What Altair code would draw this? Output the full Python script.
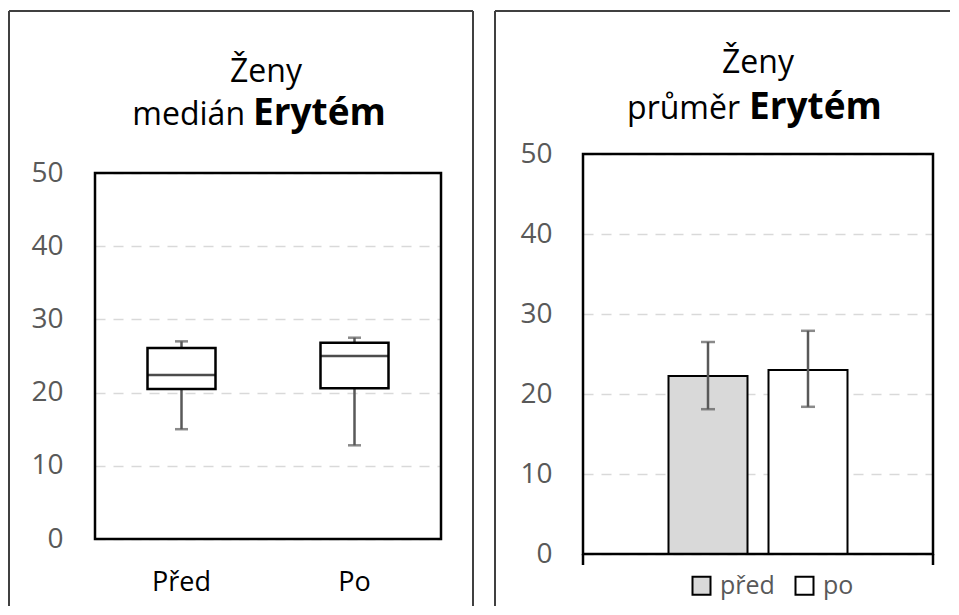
import altair as alt
import pandas as pd

FONT = "Open Sans"

# ---- data: left panel (median box plot) ----
box_groups = ["Před", "Po"]
box_min = [15.0, 12.8]
box_q1 = [20.5, 20.6]
box_median = [22.4, 25.0]
box_q3 = [26.1, 26.8]
box_max = [27.0, 27.5]

# ---- data: right panel (mean bars with error bars) ----
bar_groups = ["před", "po"]
bar_mean = [22.25, 23.0]
bar_err_low = [18.1, 18.4]
bar_err_high = [26.5, 27.9]

y_ticks = [0, 10, 20, 30, 40, 50]

box_df = pd.DataFrame({"grp": box_groups, "lo": box_min, "q1": box_q1,
                       "med": box_median, "q3": box_q3, "hi": box_max})
bar_df = pd.DataFrame({"grp": bar_groups, "mean": bar_mean,
                       "lo": bar_err_low, "hi": bar_err_high})
one = pd.DataFrame({"a": [0]})

W1, W2, H = 346, 350, 400
GRID = dict(grid=True, gridColor="#d9d9d9", gridDash=[10, 8], gridWidth=1.5)
T_REG, T_BOLD = 32, 37

# ---------------- left panel ----------------
ly_scale = alt.Scale(domain=[-2.049, 52.596], nice=False, zero=False)
ly_axis = alt.Axis(values=y_ticks, title=None, labelFont=FONT, labelFontSize=28,
                   labelColor="#595959", labelPadding=32, ticks=False, tickSize=0,
                   domain=False, labelOverlap=False, **GRID)
lx = alt.X("grp:N", sort=box_groups,
           scale=alt.Scale(domain=box_groups, paddingInner=0, paddingOuter=0),
           axis=alt.Axis(title=None, labelFont=FONT, labelFontSize=27, labelColor="#000000",
                         labelAngle=0, labelBaseline="alphabetic", labelPadding=36,
                         domain=False, ticks=False, tickSize=0, grid=False))

def LY(field):
    return alt.Y(field, type="quantitative", scale=ly_scale, axis=ly_axis)

lbase = alt.Chart(box_df)
whisk_up = lbase.mark_rule(color="#595959", strokeWidth=2.5).encode(x=lx, y=LY("q3"), y2="hi")
whisk_dn = lbase.mark_rule(color="#595959", strokeWidth=2.5).encode(x=lx, y=LY("lo"), y2="q1")
box = lbase.mark_bar(width=68, fill="white", stroke="black", strokeWidth=2.5).encode(
    x=lx, y=LY("q1"), y2="q3")
med = lbase.mark_tick(color="black", thickness=2.5, size=68).encode(x=lx, y=LY("med"))
cap_hi = lbase.mark_tick(color="#595959", thickness=2.5, size=13).encode(x=lx, y=LY("hi"))
cap_lo = lbase.mark_tick(color="#595959", thickness=2.5, size=13).encode(x=lx, y=LY("lo"))

lframe = alt.Chart(one).mark_rect(fillOpacity=0, stroke="black", strokeWidth=2.5).encode(
    x=alt.value(0), x2=alt.value(W1),
    y=alt.YDatum(50, type="quantitative", scale=ly_scale, axis=ly_axis), y2=alt.datum(0))

pframe_col = "#404040"
lp1 = alt.Chart(one).mark_rule(color=pframe_col, strokeWidth=2).encode(
    x=alt.value(-86), y=alt.value(-143), y2=alt.value(452))
lp2 = alt.Chart(one).mark_rule(color=pframe_col, strokeWidth=2).encode(
    x=alt.value(-86), x2=alt.value(378), y=alt.value(-143))
lp3 = alt.Chart(one).mark_rule(color=pframe_col, strokeWidth=2).encode(
    x=alt.value(378), y=alt.value(-143), y2=alt.value(452))

lt1 = alt.Chart(one).mark_text(text="Ženy", font=FONT, fontSize=T_REG, color="black",
                               align="center", baseline="alphabetic").encode(
    x=alt.value(171), y=alt.value(-72))
lt2 = alt.Chart(one).mark_text(text="medián", font=FONT, fontSize=T_REG, color="black",
                               align="right", baseline="alphabetic").encode(
    x=alt.value(150), y=alt.value(-29))
lt3 = alt.Chart(one).mark_text(text="Erytém", font=FONT, fontSize=T_BOLD, fontWeight="bold",
                               color="black", align="left", baseline="alphabetic").encode(
    x=alt.value(158), y=alt.value(-29))

left = alt.layer(lp1, lp2, lp3, whisk_up, whisk_dn, box, med, cap_hi, cap_lo, lframe,
                 lt1, lt2, lt3).properties(width=W1, height=H)

# ---------------- right panel ----------------
ry_scale = alt.Scale(domain=[0, 50], nice=False, zero=True)
ry_axis = alt.Axis(values=y_ticks, title=None, labelFont=FONT, labelFontSize=28,
                   labelColor="#595959", labelPadding=31, ticks=False, tickSize=0,
                   domain=False, labelOverlap=False, **GRID)
rx = alt.X("grp:N", sort=bar_groups,
           scale=alt.Scale(domain=bar_groups, paddingInner=0.21, paddingOuter=0.855),
           axis=None)

def RY(field):
    return alt.Y(field, type="quantitative", scale=ry_scale, axis=ry_axis)

rbase = alt.Chart(bar_df)
bars = rbase.mark_bar(stroke="black", strokeWidth=2).encode(
    x=rx, y=RY("mean"),
    color=alt.Color("grp:N", sort=bar_groups,
                    scale=alt.Scale(domain=bar_groups, range=["#d9d9d9", "#ffffff"]),
                    legend=alt.Legend(title=None, orient="none", legendX=594, legendY=419,
                                      direction="horizontal", symbolType="square",
                                      symbolSize=324, symbolStrokeColor="black",
                                      symbolStrokeWidth=2, labelFont=FONT, labelFontSize=25,
                                      labelColor="#595959", labelOffset=6,
                                      columnPadding=16, padding=0)))
err = rbase.mark_rule(color="#595959", strokeWidth=2.5).encode(x=rx, y=RY("lo"), y2="hi")
ecap_hi = rbase.mark_tick(color="#595959", thickness=2.5, size=14).encode(x=rx, y=RY("hi"))
ecap_lo = rbase.mark_tick(color="#595959", thickness=2.5, size=14).encode(x=rx, y=RY("lo"))

rframe = alt.Chart(one).mark_rect(fillOpacity=0, stroke="black", strokeWidth=2.5).encode(
    x=alt.value(0), x2=alt.value(W2),
    y=alt.YDatum(50, type="quantitative", scale=ry_scale, axis=ry_axis), y2=alt.datum(0))
rt_l = alt.Chart(one).mark_rule(color="black", strokeWidth=2.5).encode(
    x=alt.value(0), y=alt.value(H), y2=alt.value(H + 11))
rt_r = alt.Chart(one).mark_rule(color="black", strokeWidth=2.5).encode(
    x=alt.value(W2), y=alt.value(H), y2=alt.value(H + 11))

rp1 = alt.Chart(one).mark_rule(color=pframe_col, strokeWidth=2).encode(
    x=alt.value(-88), y=alt.value(-143), y2=alt.value(452))
rp2 = alt.Chart(one).mark_rule(color=pframe_col, strokeWidth=2).encode(
    x=alt.value(-88), x2=alt.value(367), y=alt.value(-143))

rt1 = alt.Chart(one).mark_text(text="Ženy", font=FONT, fontSize=T_REG, color="black",
                               align="center", baseline="alphabetic").encode(
    x=alt.value(175), y=alt.value(-81))
rt2 = alt.Chart(one).mark_text(text="průměr", font=FONT, fontSize=T_REG, color="black",
                               align="right", baseline="alphabetic").encode(
    x=alt.value(157), y=alt.value(-35))
rt3 = alt.Chart(one).mark_text(text="Erytém", font=FONT, fontSize=T_BOLD, fontWeight="bold",
                               color="black", align="left", baseline="alphabetic").encode(
    x=alt.value(166), y=alt.value(-35))

right = alt.layer(rp1, rp2, bars, err, ecap_hi, ecap_lo, rframe, rt_l, rt_r,
                  rt1, rt2, rt3).properties(width=W2, height=H)

chart = alt.hconcat(left, right, spacing=142, bounds="flush").configure_view(
    stroke=None).properties(padding={"left": 0, "top": 2, "right": 0, "bottom": 0},
                            background="white")

chart.save("out.html", embed_options={"renderer": "svg", "actions": False})
